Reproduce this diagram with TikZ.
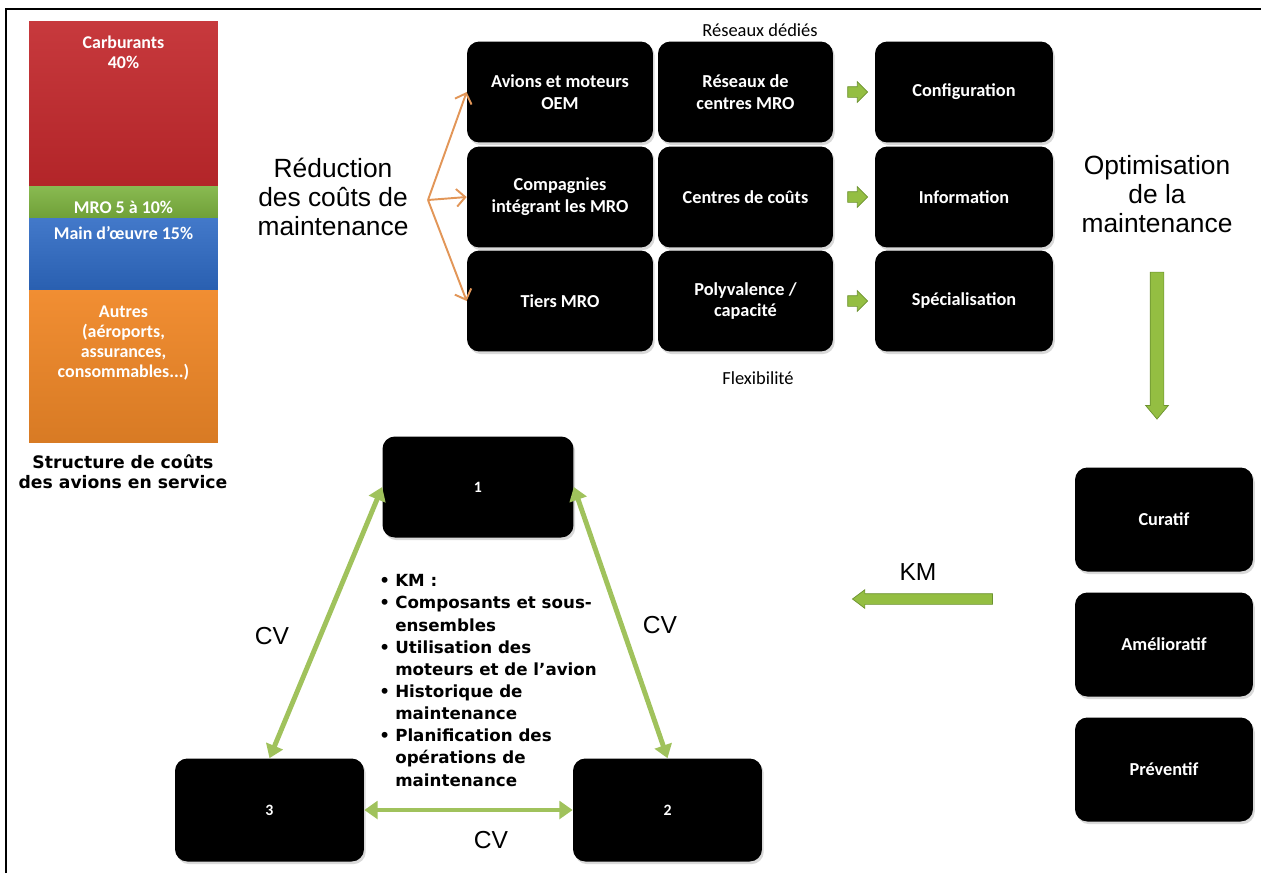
\documentclass[tikz,border=0pt]{standalone}
\usepackage{fontspec}
\setmainfont{Liberation Sans}
\newfontfamily\calfont{Carlito}
\newfontfamily\verfont{DejaVu Sans}
\usetikzlibrary{arrows.meta,shapes.arrows,shadows}

\definecolor{carbred}{RGB}{194,40,44}
\definecolor{mrogreen}{RGB}{124,178,62}
\definecolor{mainblue}{RGB}{46,106,196}
\definecolor{autreorange}{RGB}{240,136,40}
\definecolor{arrowgreen}{RGB}{148,190,66}
\definecolor{arrowgreendk}{RGB}{108,146,48}
\definecolor{linkgreen}{RGB}{160,194,92}
\definecolor{orangeline}{RGB}{226,150,88}

\tikzset{
  blackbox/.style={rectangle, rounded corners=7pt, fill=black, text=white, align=center,
    inner sep=2pt, minimum height=2.02cm,
    font=\calfont\bfseries\fontsize{10.4}{12.5}\selectfont,
    drop shadow={opacity=0.3, shadow xshift=1pt, shadow yshift=-1.5pt}},
  barseg/.style={rectangle, inner sep=0pt, minimum width=3.78cm},
  bartext/.style={text=white, align=center, inner sep=0pt,
    font=\calfont\bfseries\fontsize{10.2}{11.5}\selectfont},
  bigtext/.style={align=center, inner sep=0pt, font=\fontsize{15}{16.5}\selectfont},
  cvtext/.style={inner sep=0pt, font=\fontsize{14}{16}\selectfont},
  thintext/.style={inner sep=0pt, font=\calfont\fontsize{10.5}{12}\selectfont},
  smallarrow/.style={single arrow, fill=arrowgreen, draw=arrowgreendk, line width=0.4pt,
    inner xsep=0pt, inner ysep=0.1cm, minimum width=0pt, minimum height=0.4cm,
    single arrow head extend=0.1cm, single arrow tip angle=90},
  orangelink/.style={draw=orangeline, line width=1.1pt, -{Straight Barb[length=5pt,width=10pt]}},
  greenlink/.style={draw=linkgreen, line width=2.8pt, {Triangle[width=10pt,length=7.5pt]}-{Triangle[width=10pt,length=7.5pt]}}
}

\begin{document}
\begin{tikzpicture}[x=0.02cm, y=-0.02cm]
  \useasboundingbox (0,0) rectangle (1261,873);
  % frame
  \draw[line width=1.2pt] (6,873) -- (6,9) -- (1261,9);

  % cost structure bar
  \node[barseg, top color=carbred!92!white, bottom color=carbred!92!black, minimum height=3.3cm] (carb) at (123.5,103.5) {};
  \node[barseg, top color=mrogreen!90!white, bottom color=mrogreen!90!black, minimum height=0.64cm] (mro) at (123.5,202) {};
  \node[barseg, top color=mainblue!90!white, bottom color=mainblue!90!black, minimum height=1.44cm] (main) at (123.5,254) {};
  \node[barseg, top color=autreorange!95!white, bottom color=autreorange!90!black, minimum height=3.06cm] (autres) at (123.5,366.5) {};
  \node[bartext] (carbtxt) at (123.5,52.5) {Carburants\\40\%};
  \node[bartext] (mrotxt) at (123.5,207) {MRO 5 à 10\%};
  \node[bartext] (maintxt) at (123.5,233) {Main d’œuvre 15\%};
  \node[bartext] (autrestxt) at (123.5,343) {Autres\\(aéroports,\\assurances,\\consommables...)};
  \node[align=center, inner sep=0pt, font=\verfont\bfseries\fontsize{9.8}{11.3}\selectfont] (caption) at (123,472)
    {Structure de coûts\\des avions en service};

  % reduction of maintenance costs
  \node[bigtext] (reduc) at (333,197) {Réduction\\des coûts de\\maintenance};
  \coordinate (src) at (428,200);
  \node[thintext] (reseaux) at (760,30) {Réseaux dédiés};
  \node[thintext] (flex) at (758,378) {Flexibilité};
  \foreach \y/\na/\nb/\nc [count=\r] in {92/{Avions et moteurs\\OEM}/{Réseaux de\\centres MRO}/Configuration,
      197/{Compagnies\\intégrant les MRO}/{Centres de coûts}/Information,
      301/{Tiers MRO}/{Polyvalence /\\capacité}/Spécialisation}{
    \node[blackbox, minimum width=3.72cm] (a\r) at (560,\y) {\na};
    \node[blackbox, minimum width=3.5cm] (b\r) at (745.5,\y) {\nb};
    \node[blackbox, minimum width=3.56cm] (c\r) at (964,\y) {\nc};
    \node[smallarrow] (s\r) at (855,\y) {};
    \draw[orangelink] (src) -- (a\r.west);
  }

  % maintenance optimisation
  \node[bigtext] (optim) at (1157,194) {Optimisation\\de la\\maintenance};
  \node[smallarrow, rotate=-90, inner ysep=0.13cm, single arrow head extend=0.09cm,
    single arrow tip angle=80, minimum height=2.94cm] (down) at (1157,341.5) {};
  \foreach \y/\t [count=\r] in {519.5/Curatif, 644.5/Amélioratif, 769.5/Préventif}
    \node[blackbox, minimum width=3.56cm, minimum height=2.08cm] (m\r) at (1164,\y) {\t};
  \node[smallarrow, rotate=180, single arrow head extend=0.08cm, single arrow tip angle=74,
    minimum height=2.8cm] (kmarrow) at (926,599) {};
  \node[cvtext] (kmlabel) at (918,572) {KM};

  % knowledge triangle
  \node[blackbox, minimum width=3.82cm, font=\calfont\bfseries\fontsize{9}{11}\selectfont] (n1) at (478,487) {1};
  \node[blackbox, minimum width=3.78cm, minimum height=2.06cm, font=\calfont\bfseries\fontsize{9}{11}\selectfont] (n3) at (269.5,810) {3};
  \node[blackbox, minimum width=3.78cm, minimum height=2.06cm, font=\calfont\bfseries\fontsize{9}{11}\selectfont] (n2) at (667.5,810) {2};
  \draw[greenlink] (n1.west) -- (n3.north);
  \draw[greenlink] (n1.east) -- (n2.north);
  \draw[greenlink] (n3.east) -- (n2.west);
  \node[cvtext] (cvl) at (272,636) {CV};
  \node[cvtext] (cvr) at (660,625) {CV};
  \node[cvtext] (cvb) at (491,840) {CV};
  \node[anchor=north west, inner sep=0pt, font=\verfont\bfseries\fontsize{9.5}{12.6}\selectfont] (kmlist) at (379,571)
    {\begin{tabular}{@{}l@{\hspace{3pt}}l@{}}
      • & KM :\\
      • & Composants et sous-\\
        & ensembles\\
      • & Utilisation des\\
        & moteurs et de l’avion\\
      • & Historique de\\
        & maintenance\\
      • & Planification des\\
        & opérations de\\
        & maintenance
    \end{tabular}};
\end{tikzpicture}
\end{document}
